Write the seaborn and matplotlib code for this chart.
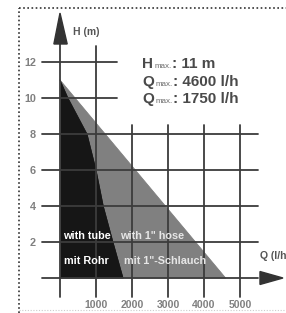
import matplotlib
matplotlib.use("Agg")
import matplotlib.pyplot as plt
import seaborn as sns
from matplotlib.patches import Polygon
from matplotlib.lines import Line2D

# pump curve data
q_tube = [0, 220, 750, 1000, 1200, 1470, 1750]
h_tube = [11, 10, 8, 6, 4, 2, 0]
q_hose = [0, 4600]
h_hose = [11, 0]
y_ticks = [2, 4, 6, 8, 10, 12]
x_ticks = [1000, 2000, 3000, 4000, 5000]
info_rows = [("H", ": 11 m"), ("Q", ": 4600 l/h"), ("Q", ": 1750 l/h")]

sns.set_style("white")
plt.rcParams["font.family"] = ["Liberation Sans", "DejaVu Sans"]

W, H = 286, 313
fig = plt.figure(figsize=(W / 100, H / 100), dpi=100)
ax = fig.add_axes([0, 0, 1, 1])
ax.axis("off")

# Q=0 -> x px 60, 1000 l/h = 36 px ; H=0 -> y px 278, 1 m = 18 px
x0, sx = 60, 0.036
y0, sy = 278, 18
ax.set_xlim(-x0 / sx, (W - x0) / sx)
ax.set_ylim((y0 - H) / sy, y0 / sy)


def px(x, y):
    return x / W, 1 - y / H


dark = "#161616"
mid = "#808080"
line_c = "#3c3c3c"

# filled areas
ax.fill_betweenx(h_hose, 0, q_hose, color=mid, lw=0, zorder=1)
ax.fill_betweenx(h_tube, 0, q_tube, color=dark, lw=0, zorder=2)
sns.lineplot(x=q_hose, y=h_hose, ax=ax, color=mid, lw=0.6, zorder=2)
sns.lineplot(x=q_tube, y=h_tube, ax=ax, color=dark, lw=0.6, zorder=3, sort=False)

# grid
lw = 1.3
for h in [12, 10]:
    ax.plot([-500, 1583], [h, h], color=line_c, lw=lw, zorder=4)
for h in [8, 6, 4, 2, 0]:
    ax.plot([-500, 5500], [h, h], color=line_c, lw=lw, zorder=4)
ax.plot([0, 0], [-1.06, 13.2], color=line_c, lw=lw, zorder=4)
ax.plot([1000, 1000], [-1.06, 12.9], color=line_c, lw=lw, zorder=4)
for q in x_ticks[1:]:
    ax.plot([q, q], [-1.06, 8.5], color=line_c, lw=lw, zorder=4)

# arrows
ax.add_patch(Polygon([[-170, 13.0], [200, 13.0], [0, 14.72]], closed=True,
                     color="#333333", zorder=5))
ax.add_patch(Polygon([[5555, -0.36], [5555, 0.36], [6194, 0]], closed=True,
                     color="#333333", zorder=5))

# tick labels
for h in y_ticks:
    ax.text(-665, h - 0.05, str(h), ha="right", va="center", fontsize=7.8,
            color="#808080", fontweight="bold", zorder=6)
for q in x_ticks:
    ax.text(q, -1.5, str(q), ha="center", va="center", fontsize=7.6,
            color="#808080", fontweight="bold", zorder=6)

# axis titles
ax.text(*px(73, 32), "H (m)", transform=ax.transAxes, ha="left", va="center",
        fontsize=7.5, color="#555555", fontweight="bold")
ax.text(*px(260, 256), "Q (l/h)", transform=ax.transAxes, ha="left", va="center",
        fontsize=7.5, color="#555555", fontweight="bold")

# area labels
lab = dict(transform=ax.transAxes, ha="left", va="center", fontsize=7.8,
           fontweight="bold", zorder=7)
ax.text(*px(63, 236), "with tube", color="white", **lab)
ax.text(*px(120, 236), "with 1\" hose", color="#e6e6e6", **lab)
ax.text(*px(64, 261), "mit Rohr", color="white", **lab)
ax.text(*px(124, 261), "mit 1\"-Schlauch", color="#e6e6e6", **lab)

# max values block, pieces placed one after another
renderer = fig.canvas.get_renderer()
for i, (big, rest) in enumerate(info_rows):
    base = 68 + 17.5 * i
    x = 142
    for s, size, weight, col, gap in [(big, 11, "bold", "#4a4a4a", 1.5),
                                      ("max.", 5.8, "normal", "#6a6a6a", 0),
                                      (rest, 11, "bold", "#4a4a4a", 0)]:
        t = ax.text(*px(x, base), s, transform=ax.transAxes, ha="left",
                    va="baseline", fontsize=size, fontweight=weight, color=col)
        x += t.get_window_extent(renderer).width + gap

# dotted frame
dots = (0, (1, 1.5))
fig.add_artist(Line2D([19 / W, 19 / W], [0, 1 - 8 / H], transform=fig.transFigure,
                      color="#333333", lw=1.2, ls=dots))
fig.add_artist(Line2D([19 / W, 1], [1 - 8 / H, 1 - 8 / H], transform=fig.transFigure,
                      color="#333333", lw=1.2, ls=dots))
fig.add_artist(Line2D([19 / W, 1], [1 - 310 / H, 1 - 310 / H], transform=fig.transFigure,
                      color="#cccccc", lw=0.8, ls=dots))

fig.savefig("out.png", dpi=100, facecolor="white")
